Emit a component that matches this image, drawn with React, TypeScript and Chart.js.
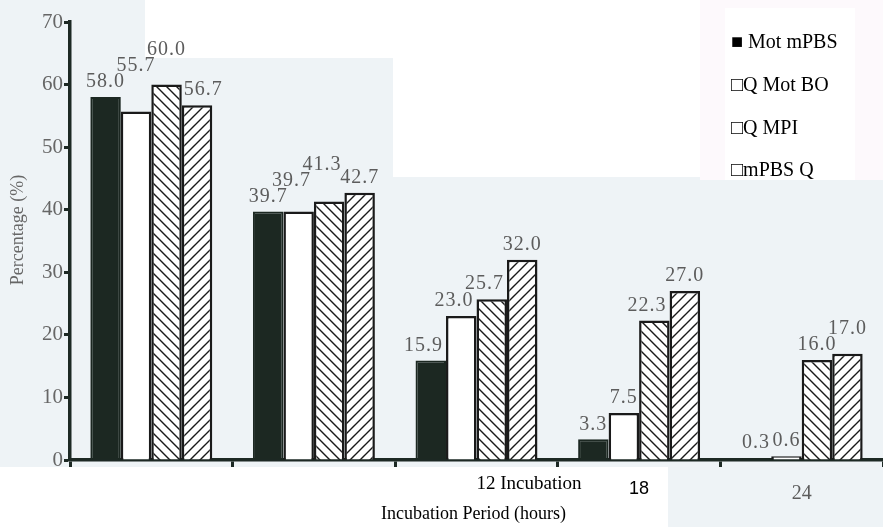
import React, { useEffect, useRef } from "react";
import { Chart, registerables } from "chart.js";

Chart.register(...registerables);

const categories = ["", "", "12 Incubation", "18", "24"];
const seriesNames = ["Mot mPBS", "Q Mot BO", "Q MPI", "mPBS Q"];
const legendMarkers = ["■ ", "□", "□", "□"];
const motMPBS = [58.0, 39.7, 15.9, 3.3, 0.3];
const qMotBO = [55.7, 39.7, 23.0, 7.5, 0.6];
const qMPI = [60.0, 41.3, 25.7, 22.3, 16.0];
const mPBSQ = [56.7, 42.7, 32.0, 27.0, 17.0];
const yMin = 0;
const yMax = 70;
const yStep = 10;
const xTitle = "Incubation Period (hours)";
const yTitle = "Percentage (%)";

const DARK = "#1d2924";
const GRAY = "#5c5c5c";

function makeHatch(dir: "back" | "fwd"): CanvasPattern | string {
  const c = document.createElement("canvas");
  const s = 10;
  c.width = s;
  c.height = s;
  const g = c.getContext("2d");
  if (!g) return "#fff";
  g.fillStyle = "#ffffff";
  g.fillRect(0, 0, s, s);
  g.strokeStyle = "#1a1a1a";
  g.lineWidth = 1.4;
  g.beginPath();
  if (dir === "back") {
    g.moveTo(0, 0); g.lineTo(s, s);
    g.moveTo(-2, s - 2); g.lineTo(2, s + 2);
    g.moveTo(s - 2, -2); g.lineTo(s + 2, 2);
  } else {
    g.moveTo(0, s); g.lineTo(s, 0);
    g.moveTo(-2, 2); g.lineTo(2, -2);
    g.moveTo(s - 2, s + 2); g.lineTo(s + 2, s - 2);
  }
  g.stroke();
  const p = g.createPattern(c, "repeat");
  return p || "#fff";
}

const backgroundPlugin = {
  id: "scanBackground",
  beforeDraw(chart: any) {
    const ctx = chart.ctx;
    const W = chart.width;
    const H = chart.height;
    ctx.save();
    ctx.fillStyle = "#eef3f6";
    ctx.fillRect(0, 0, W, H);
    ctx.fillStyle = "#ffffff";
    ctx.fillRect(145, 0, W - 145, 58);
    ctx.fillRect(393, 0, W - 393, 177);
    ctx.fillRect(0, 467, 668, H - 467);
    ctx.fillStyle = "#fdf9fc";
    ctx.fillRect(700, 0, W - 700, 180);
    ctx.fillStyle = "#ffffff";
    ctx.fillRect(725, 8, 130, 172);
    ctx.restore();
  },
};

const labelsPlugin = {
  id: "valueLabels",
  afterDatasetsDraw(chart: any) {
    const ctx = chart.ctx;
    ctx.save();
    ctx.font = "20px 'Liberation Serif', serif";
    (ctx as any).letterSpacing = "1px";
    ctx.fillStyle = GRAY;
    ctx.textAlign = "center";
    ctx.textBaseline = "bottom";
    const h = 15;
    const gap = 7;
    const n = chart.data.labels.length;
    const nd = chart.data.datasets.length;
    for (let i = 0; i < n; i++) {
      const placed: { l: number; r: number; t: number; b: number }[] = [];
      const els = chart.data.datasets.map((_: any, di: number) => chart.getDatasetMeta(di).data[i]);
      for (let di = 0; di < nd; di++) {
        const el = els[di];
        if (!el) continue;
        const v = chart.data.datasets[di].data[i] as number;
        const txt = v.toFixed(1);
        const w = ctx.measureText(txt).width;
        let cx = el.x;
        let b = el.y - gap;
        const rn = els[di + 1];
        const ln = els[di - 1];
        const rConf = (x: number) => rn && rn.y < b && x + w / 2 > rn.x - rn.width / 2;
        const lConf = (x: number) => ln && ln.y < b && x - w / 2 < ln.x + ln.width / 2;
        if (rConf(cx)) {
          const nx = rn.x - rn.width / 2 - 3 - w / 2;
          if (!lConf(nx)) cx = nx;
          else b = Math.min(rn.y, ln.y) - gap;
        } else if (lConf(cx)) {
          const nx = ln.x + ln.width / 2 + 2 + w / 2;
          if (!rConf(nx)) cx = nx;
          else b = Math.min(rn.y, ln.y) - gap;
        }
        const l = cx - w / 2;
        const r = cx + w / 2;
        let moved = true;
        while (moved) {
          moved = false;
          for (const p of placed) {
            const hOver = l < p.r - 3 && r > p.l + 3;
            const vOver = b > p.t && b - h < p.b;
            if (hOver && vOver) {
              b = p.t - 1;
              moved = true;
            }
          }
        }
        placed.push({ l, r, t: b - h, b });
        ctx.fillText(txt, cx, b + 2);
      }
    }
    ctx.restore();
  },
};

const xLabelFonts = [
  "19px 'Liberation Serif', serif",
  "19px 'Liberation Serif', serif",
  "19px 'Liberation Serif', serif",
  "18px 'Liberation Sans', sans-serif",
  "20px 'Liberation Serif', serif",
];
const xLabelColors = ["#000", "#000", "#000", "#000", GRAY];
const xLabelAlign = ["center", "center", "left", "center", "center"];
const xLabelBaseline = [489, 489, 489, 494, 499];

const axisTextPlugin = {
  id: "axisText",
  afterDraw(chart: any) {
    const ctx = chart.ctx;
    const xs = chart.scales.x;
    const area = chart.chartArea;
    ctx.save();
    ctx.textBaseline = "alphabetic";
    categories.forEach((lab, i) => {
      if (!lab) return;
      const px = xs.getPixelForValue(i);
      ctx.font = xLabelFonts[i];
      ctx.fillStyle = xLabelColors[i];
      ctx.textAlign = xLabelAlign[i] as CanvasTextAlign;
      ctx.fillText(lab, px, xLabelBaseline[i]);
    });
    ctx.font = "18px 'Liberation Serif', serif";
    ctx.fillStyle = "#000";
    ctx.textAlign = "center";
    ctx.fillText(xTitle, (area.left + area.right) / 2 - 3, 519);
    ctx.translate(18, 230);
    ctx.rotate(-Math.PI / 2);
    ctx.font = "18px 'Liberation Serif', serif";
    ctx.fillStyle = "#666";
    ctx.textAlign = "center";
    ctx.textBaseline = "middle";
    ctx.fillText(yTitle, 0, 0);
    ctx.restore();

    ctx.save();
    ctx.font = "20px 'Liberation Serif', serif";
    ctx.fillStyle = "#000";
    ctx.textAlign = "left";
    ctx.textBaseline = "alphabetic";
    const baselines = [48, 91, 134, 176];
    seriesNames.forEach((name, i) => {
      ctx.fillText(legendMarkers[i] + name, 731, baselines[i]);
    });
    ctx.restore();
  },
};

export default function App() {
  const ref = useRef<HTMLCanvasElement | null>(null);
  useEffect(() => {
    if (!ref.current) return;
    const back = makeHatch("back");
    const fwd = makeHatch("fwd");
    const chart = new Chart(ref.current, {
      type: "bar",
      data: {
        labels: categories,
        datasets: [
          { label: seriesNames[0], data: motMPBS, backgroundColor: "#1c2822", borderColor: "#1c2822", borderWidth: 2 },
          { label: seriesNames[1], data: qMotBO, backgroundColor: "#ffffff", borderColor: "#1a1a1a", borderWidth: 2.5 },
          { label: seriesNames[2], data: qMPI, backgroundColor: back as any, borderColor: "#1a1a1a", borderWidth: 2.5 },
          { label: seriesNames[3], data: mPBSQ, backgroundColor: fwd as any, borderColor: "#1a1a1a", borderWidth: 2.5 },
        ],
      },
      options: {
        responsive: false,
        animation: false,
        layout: { padding: { top: 22, right: 0, left: 0, bottom: 0 } },
        datasets: { bar: { categoryPercentage: 0.75, barPercentage: 1.0 } },
        plugins: {
          legend: { display: false },
          tooltip: { enabled: false },
          title: { display: false },
        },
        scales: {
          x: {
            offset: true,
            grid: { offset: true, drawOnChartArea: false, drawTicks: true, tickLength: 7, tickWidth: 3, tickColor: DARK, color: DARK },
            border: { display: true, color: DARK, width: 3.5 },
            ticks: { display: false },
            afterFit: (s: any) => { s.height = 67; },
          },
          y: {
            min: yMin,
            max: yMax,
            grid: { drawOnChartArea: false, drawTicks: true, tickLength: 6, tickWidth: 3, tickColor: DARK, color: DARK },
            border: { display: true, color: DARK, width: 3.5 },
            ticks: {
              stepSize: yStep,
              padding: 1,
              color: "#666",
              font: { family: "'Liberation Serif', serif", size: 21 },
            },
            afterFit: (s: any) => { s.width = 70; },
          },
        },
      },
      plugins: [backgroundPlugin, labelsPlugin, axisTextPlugin],
    });
    return () => chart.destroy();
  }, []);
  return (
    <div style={{ position: "absolute", left: 0, top: 0, width: 883, height: 527 }}>
      <canvas ref={ref} width={883} height={527} style={{ display: "block" }} />
    </div>
  );
}
